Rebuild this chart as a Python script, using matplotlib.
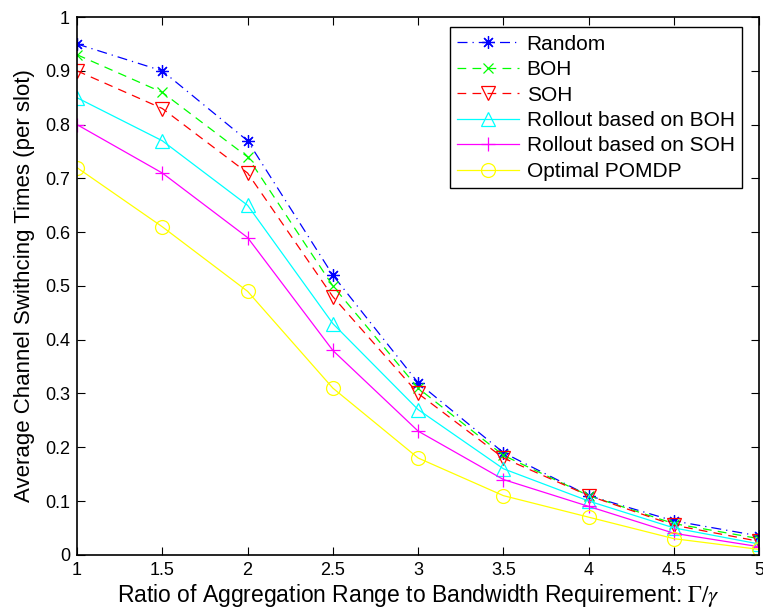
import numpy as np
import matplotlib
matplotlib.use("Agg")
import matplotlib.pyplot as plt

plt.rcParams['font.family'] = ['Liberation Sans', 'DejaVu Sans']
plt.rcParams['mathtext.fontset'] = 'stix'

ratio = [1, 1.5, 2, 2.5, 3, 3.5, 4, 4.5, 5]

random_v = [0.95, 0.90, 0.77, 0.52, 0.32, 0.19, 0.11, 0.063, 0.035]
boh = [0.93, 0.86, 0.74, 0.50, 0.31, 0.185, 0.11, 0.058, 0.030]
soh = [0.90, 0.83, 0.71, 0.48, 0.30, 0.18, 0.11, 0.055, 0.025]
roll_boh = [0.85, 0.77, 0.65, 0.43, 0.27, 0.16, 0.10, 0.050, 0.020]
roll_soh = [0.80, 0.71, 0.59, 0.38, 0.23, 0.14, 0.09, 0.040, 0.015]
optimal = [0.72, 0.61, 0.49, 0.31, 0.18, 0.11, 0.07, 0.030, 0.010]

fig = plt.figure(figsize=(7.63, 6.11), dpi=100)
ax = fig.add_axes([0.101, 0.092, 0.894, 0.880])

lw = 0.9
ms = 9
ax.plot(ratio, random_v, color='blue', linestyle=(0, (8, 4, 1, 4)), marker=(8, 2, 0),
        markersize=ms, markeredgewidth=0.9, lw=lw, label='Random')
ax.plot(ratio, boh, color='#00ff00', linestyle=(0, (7, 5)), marker='x',
        markersize=7.5, markeredgewidth=0.9, lw=lw, label='BOH')
ax.plot(ratio, soh, color='red', linestyle=(0, (7, 5)), marker='v',
        markersize=ms + 1, markeredgewidth=0.9, markerfacecolor='none', lw=lw, label='SOH')
ax.plot(ratio, roll_boh, color='cyan', linestyle='-', marker='^',
        markersize=ms + 1, markeredgewidth=0.9, markerfacecolor='none', lw=lw,
        label='Rollout based on BOH')
ax.plot(ratio, roll_soh, color='magenta', linestyle='-', marker='+',
        markersize=ms + 1, markeredgewidth=0.9, lw=lw, label='Rollout based on SOH')
ax.plot(ratio, optimal, color='yellow', linestyle='-', marker='o',
        markersize=ms + 1, markeredgewidth=0.9, markerfacecolor='none', lw=lw,
        label='Optimal POMDP')

ax.set_xlim(1, 5)
ax.set_ylim(0, 1)
ax.set_xticks(np.arange(1, 5.01, 0.5))
ax.set_xticklabels(['1', '1.5', '2', '2.5', '3', '3.5', '4', '4.5', '5'])
ax.set_yticks(np.arange(0, 1.01, 0.1))
ax.set_yticklabels(['0', '0.1', '0.2', '0.3', '0.4', '0.5', '0.6', '0.7', '0.8', '0.9', '1'])
ax.tick_params(direction='in', top=True, right=True, labelsize=13, length=6, pad=5)
for s in ax.spines.values():
    s.set_linewidth(1.2)

ax.set_xlabel('Ratio of Aggregation Range to Bandwidth Requirement: $\\Gamma/\\gamma$',
              fontsize=16.5, labelpad=2)
ax.set_ylabel('Average Channel Swithcing Times (per slot)', fontsize=16, labelpad=7)

leg = ax.legend(loc='upper left', bbox_to_anchor=(0.546, 0.981), fontsize=15,
                fancybox=False, edgecolor='black', framealpha=1,
                handlelength=3.0, borderpad=0.35, labelspacing=0.31, handletextpad=0.35,
                borderaxespad=0.0)
leg.get_frame().set_linewidth(1.0)

fig.savefig('out.png', dpi=100)
